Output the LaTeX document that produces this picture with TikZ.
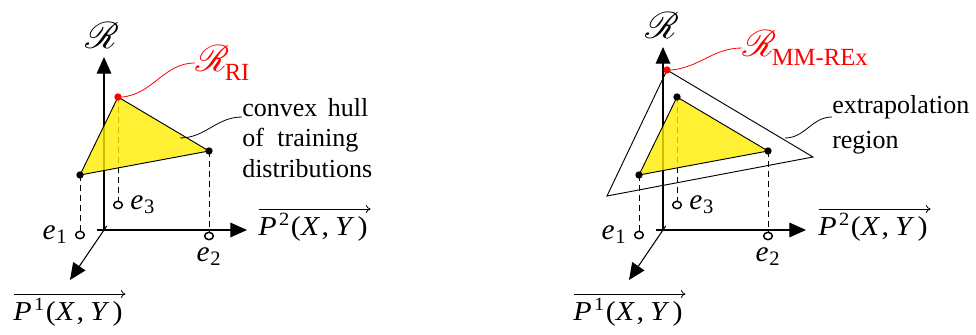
\documentclass[tikz,border=0pt]{standalone}
\IfFileExists{mathrsfs.sty}{\usepackage{mathrsfs}}{\newcommand\mathscr{\mathcal}}
\usepackage{fontspec}
\setmainfont{Liberation Serif}
\usetikzlibrary{arrows.meta,shapes.geometric}
\definecolor{hullyellow}{RGB}{255,236,0}
\newcommand\mvar[1]{\textit{#1}}
\newcommand\Pxy[1]{\scalebox{1.1}[1]{\mvar{P}\kern0.08em\raisebox{0.36em}{\fontsize{14}{14}\selectfont #1}\kern0.05em(\mvar{X}\kern0.05em,\kern0.2em\mvar{Y}\kern0.1em)}}
\newcommand\ev[1]{\mvar{e}\kern0.03em\textsubscript{#1}}
\newcommand\scrR{\scalebox{1.12}{\fontsize{24.88}{26}\selectfont$\mathscr{R}$}}
\newcommand\rsub[1]{\raisebox{-0.28em}{\fontsize{18.5}{20}\selectfont #1}}
\tikzset{
  axis/.style={line width=0.8pt,-{Triangle[length=12.5pt,width=11pt]}},
  vecarrow/.style={line width=0.6pt,-{To[length=3.5pt,width=6pt]}},
  proj/.style={line width=0.7pt,dash pattern=on 4.5pt off 3pt},
  hull/.style={draw=black,line width=0.7pt,fill=hullyellow,fill opacity=0.8},
  outer/.style={draw=black,line width=0.7pt},
  vdot/.style={circle,fill=black,inner sep=0pt,minimum size=5.5pt},
  rdot/.style={circle,fill=red,inner sep=0pt,minimum size=5.5pt},
  foot/.style={ellipse,draw=black,line width=1.1pt,fill=white,inner sep=0pt,minimum width=6.5pt,minimum height=5.5pt},
  lbl/.style={font=\fontsize{19.5}{23}\selectfont,inner sep=0pt},
  elbl/.style={font=\fontsize{22}{24}\selectfont,inner sep=0pt},
  plbl/.style={font=\fontsize{20.5}{22}\selectfont,inner sep=0pt},
  pointer/.style={line width=0.6pt},
  rpointer/.style={line width=0.6pt,draw=red},
}
\begin{document}
\begin{tikzpicture}[x=0.75pt,y=-0.75pt]
\useasboundingbox (0,0) rectangle (976,335);
% ---------------- left panel ----------------
\begin{scope}[shift={(104,230)}]
  \coordinate (lO) at (0,0);
  \coordinate (lvt) at (0,-173);
  \coordinate (lhs) at (-7,0);
  \coordinate (lht) at (143,0);
  \coordinate (lds) at (2.7,-4);
  \coordinate (ldt) at (-34,50);
  \draw[axis] (lO) -- (lvt);
  \draw[axis] (lhs) -- (lht);
  \draw[axis] (lds) -- (ldt);
  \node[foot] (le1) at (-24,5) {};
  \node[foot] (le3) at (14,-25) {};
  \node[foot] (le2) at (105,6) {};
  \coordinate (lA) at (14,-133);
  \coordinate (lB) at (105,-79);
  \coordinate (lC) at (-24,-55);
  \draw[proj] (lC) -- (le1);
  \draw[proj] (lA) -- (le3);
  \draw[proj] (lB) -- (le2);
  \draw[hull] (lA) -- (lB) -- (lC) -- cycle;
  \node[rdot] (lAd) at (lA) {};
  \node[vdot] (lBd) at (lB) {};
  \node[vdot] (lCd) at (lC) {};
  \node[elbl] (le1l) at (-49,5) {\ev{1}};
  \node[elbl,anchor=west] (le3l) at (26,-25) {\ev{3}};
  \node[elbl] (le2l) at (105,27) {\ev{2}};
  \node[elbl] (lR) at (-2,-195) {\scrR};
  \node[elbl,anchor=west,text=red] (lRRI) at (91,-167) {\scrR\kern-0.15em\rsub{RI}};
  \draw[rpointer] (lAd.east) to[out=5,in=180] (lRRI.west);
  \node[lbl,anchor=north west,align=left] (lhulltxt) at (138,-132)
    {\makebox[94.5pt][s]{convex hull}\\\makebox[87pt][s]{of training}\\distributions};
  \coordinate (lhp) at (76,-92);
  \draw[pointer] (lhp) to[out=0,in=180] (lhulltxt.west |- 0,-113);
  \node[plbl,anchor=base west] (lP2) at (154,5) {\Pxy{2}};
  \node[plbl,anchor=base west] (lP1) at (-91,90) {\Pxy{1}};
  \draw[vecarrow] ([yshift=19.5pt,xshift=1pt]lP2.base west) -- ([yshift=19.5pt,xshift=2pt]lP2.base east);
  \draw[vecarrow] ([yshift=19.5pt,xshift=1pt]lP1.base west) -- ([yshift=19.5pt,xshift=2pt]lP1.base east);
\end{scope}
% ---------------- right panel ----------------
\begin{scope}[shift={(663,230)}]
  \coordinate (rO) at (0,0);
  \coordinate (rvt) at (0,-183);
  \coordinate (rhs) at (-7,0);
  \coordinate (rht) at (143,0);
  \coordinate (rds) at (2.7,-4);
  \coordinate (rdt) at (-34,50);
  \draw[axis] (rO) -- (rvt);
  \draw[axis] (rhs) -- (rht);
  \draw[axis] (rds) -- (rdt);
  \node[foot] (re1) at (-24,5) {};
  \node[foot] (re3) at (14,-25) {};
  \node[foot] (re2) at (105,6) {};
  \coordinate (rA) at (14,-133);
  \coordinate (rB) at (105,-79);
  \coordinate (rC) at (-24,-55);
  \coordinate (rT) at (4,-160);
  \coordinate (rR) at (150,-73);
  \coordinate (rL) at (-56,-34);
  \draw[outer] (rT) -- (rR) -- (rL) -- cycle;
  \draw[proj] (rC) -- (re1);
  \draw[proj] (rA) -- (re3);
  \draw[proj] (rB) -- (re2);
  \draw[hull] (rA) -- (rB) -- (rC) -- cycle;
  \node[vdot] (rAd) at (rA) {};
  \node[vdot] (rBd) at (rB) {};
  \node[vdot] (rCd) at (rC) {};
  \node[rdot] (rTd) at (rT) {};
  \node[elbl] (re1l) at (-49,5) {\ev{1}};
  \node[elbl,anchor=west] (re3l) at (26,-25) {\ev{3}};
  \node[elbl] (re2l) at (105,27) {\ev{2}};
  \node[elbl] (rRl) at (-1,-205) {\scrR};
  \node[elbl,anchor=west,text=red] (rRMM) at (79,-182) {\scrR\kern-0.15em\rsub{MM-REx}};
  \draw[rpointer] (rTd.east) to[out=5,in=180] (rRMM.west);
  \node[lbl,anchor=north west,align=left,font=\fontsize{19.5}{26.5}\selectfont] (rtxt) at (169,-135)
    {extrapolation\\region};
  \coordinate (rhp) at (122,-92);
  \draw[pointer] (rhp) to[out=0,in=180] (rtxt.west |- 0,-113);
  \node[plbl,anchor=base west] (rP2) at (155,5) {\Pxy{2}};
  \node[plbl,anchor=base west] (rP1) at (-90,90) {\Pxy{1}};
  \draw[vecarrow] ([yshift=19.5pt,xshift=1pt]rP2.base west) -- ([yshift=19.5pt,xshift=2pt]rP2.base east);
  \draw[vecarrow] ([yshift=19.5pt,xshift=1pt]rP1.base west) -- ([yshift=19.5pt,xshift=2pt]rP1.base east);
\end{scope}
\end{tikzpicture}
\end{document}
